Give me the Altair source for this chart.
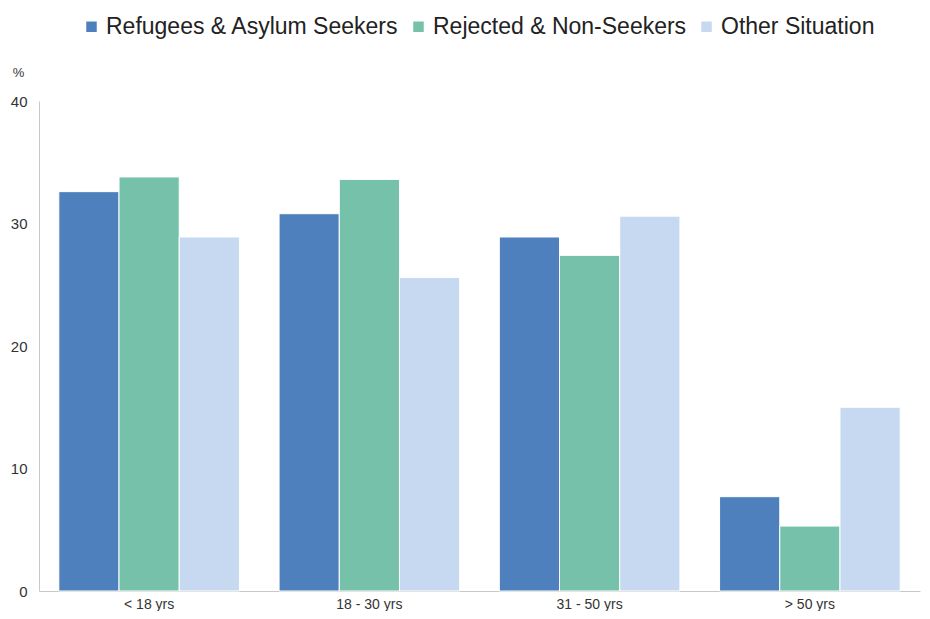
import altair as alt
import pandas as pd

groups = ["< 18 yrs", "18 - 30 yrs", "31 - 50 yrs", "> 50 yrs"]
series = ["Refugees & Asylum Seekers", "Rejected & Non-Seekers", "Other Situation"]
refugees = [32.6, 30.8, 28.9, 7.7]
rejected = [33.8, 33.6, 27.4, 5.3]
other = [28.9, 25.6, 30.6, 15.0]
colors = ["#4e80bd", "#75c1a9", "#c6d9f0"]

rows = []
for s, vals in zip(series, [refugees, rejected, other]):
    for g, v in zip(groups, vals):
        rows.append({"group": g, "series": s, "value": v})
df = pd.DataFrame(rows)

font = "Liberation Sans"

chart = alt.Chart(df).mark_bar(stroke="white", strokeWidth=1).encode(
    x=alt.X("group:N", sort=groups,
            scale=alt.Scale(paddingInner=0.18, paddingOuter=0.09),
            axis=alt.Axis(title=None, labelAngle=0, ticks=False, labelPadding=6,
                          domainColor="#c8c8c8", labelFontSize=14, labelColor="#333",
                          labelFont=font)),
    xOffset=alt.XOffset("series:N", sort=series, scale=alt.Scale(paddingInner=0.0)),
    y=alt.Y("value:Q", scale=alt.Scale(domain=[0, 40]),
            axis=alt.Axis(values=[0, 10, 20, 30, 40], grid=False, ticks=False,
                          labelPadding=12, domainColor="#c8c8c8", labelFontSize=15,
                          labelColor="#333", labelFont=font,
                          title="%", titleAngle=0, titleFontWeight="normal",
                          titleFontSize=13, titleColor="#333", titleFont=font,
                          titleX=-21, titleY=-22, titleAlign="center")),
    color=alt.Color("series:N", sort=series,
                    scale=alt.Scale(domain=series, range=colors),
                    legend=alt.Legend(title=None, orient="none", direction="horizontal",
                                      legendX=41, legendY=-86, symbolType="square",
                                      symbolSize=110, symbolStrokeWidth=0,
                                      labelFontSize=23, labelColor="#222", labelFont=font,
                                      columnPadding=8, labelOffset=3,
                                      labelLimit=400)),
).properties(
    width=881, height=490,
    autosize=alt.AutoSizeParams(type="none"),
    padding={"left": 31, "top": 93, "right": 2, "bottom": 20},
).configure_view(stroke=None)

chart.save("out.html", embed_options={"renderer": "svg", "actions": False})
